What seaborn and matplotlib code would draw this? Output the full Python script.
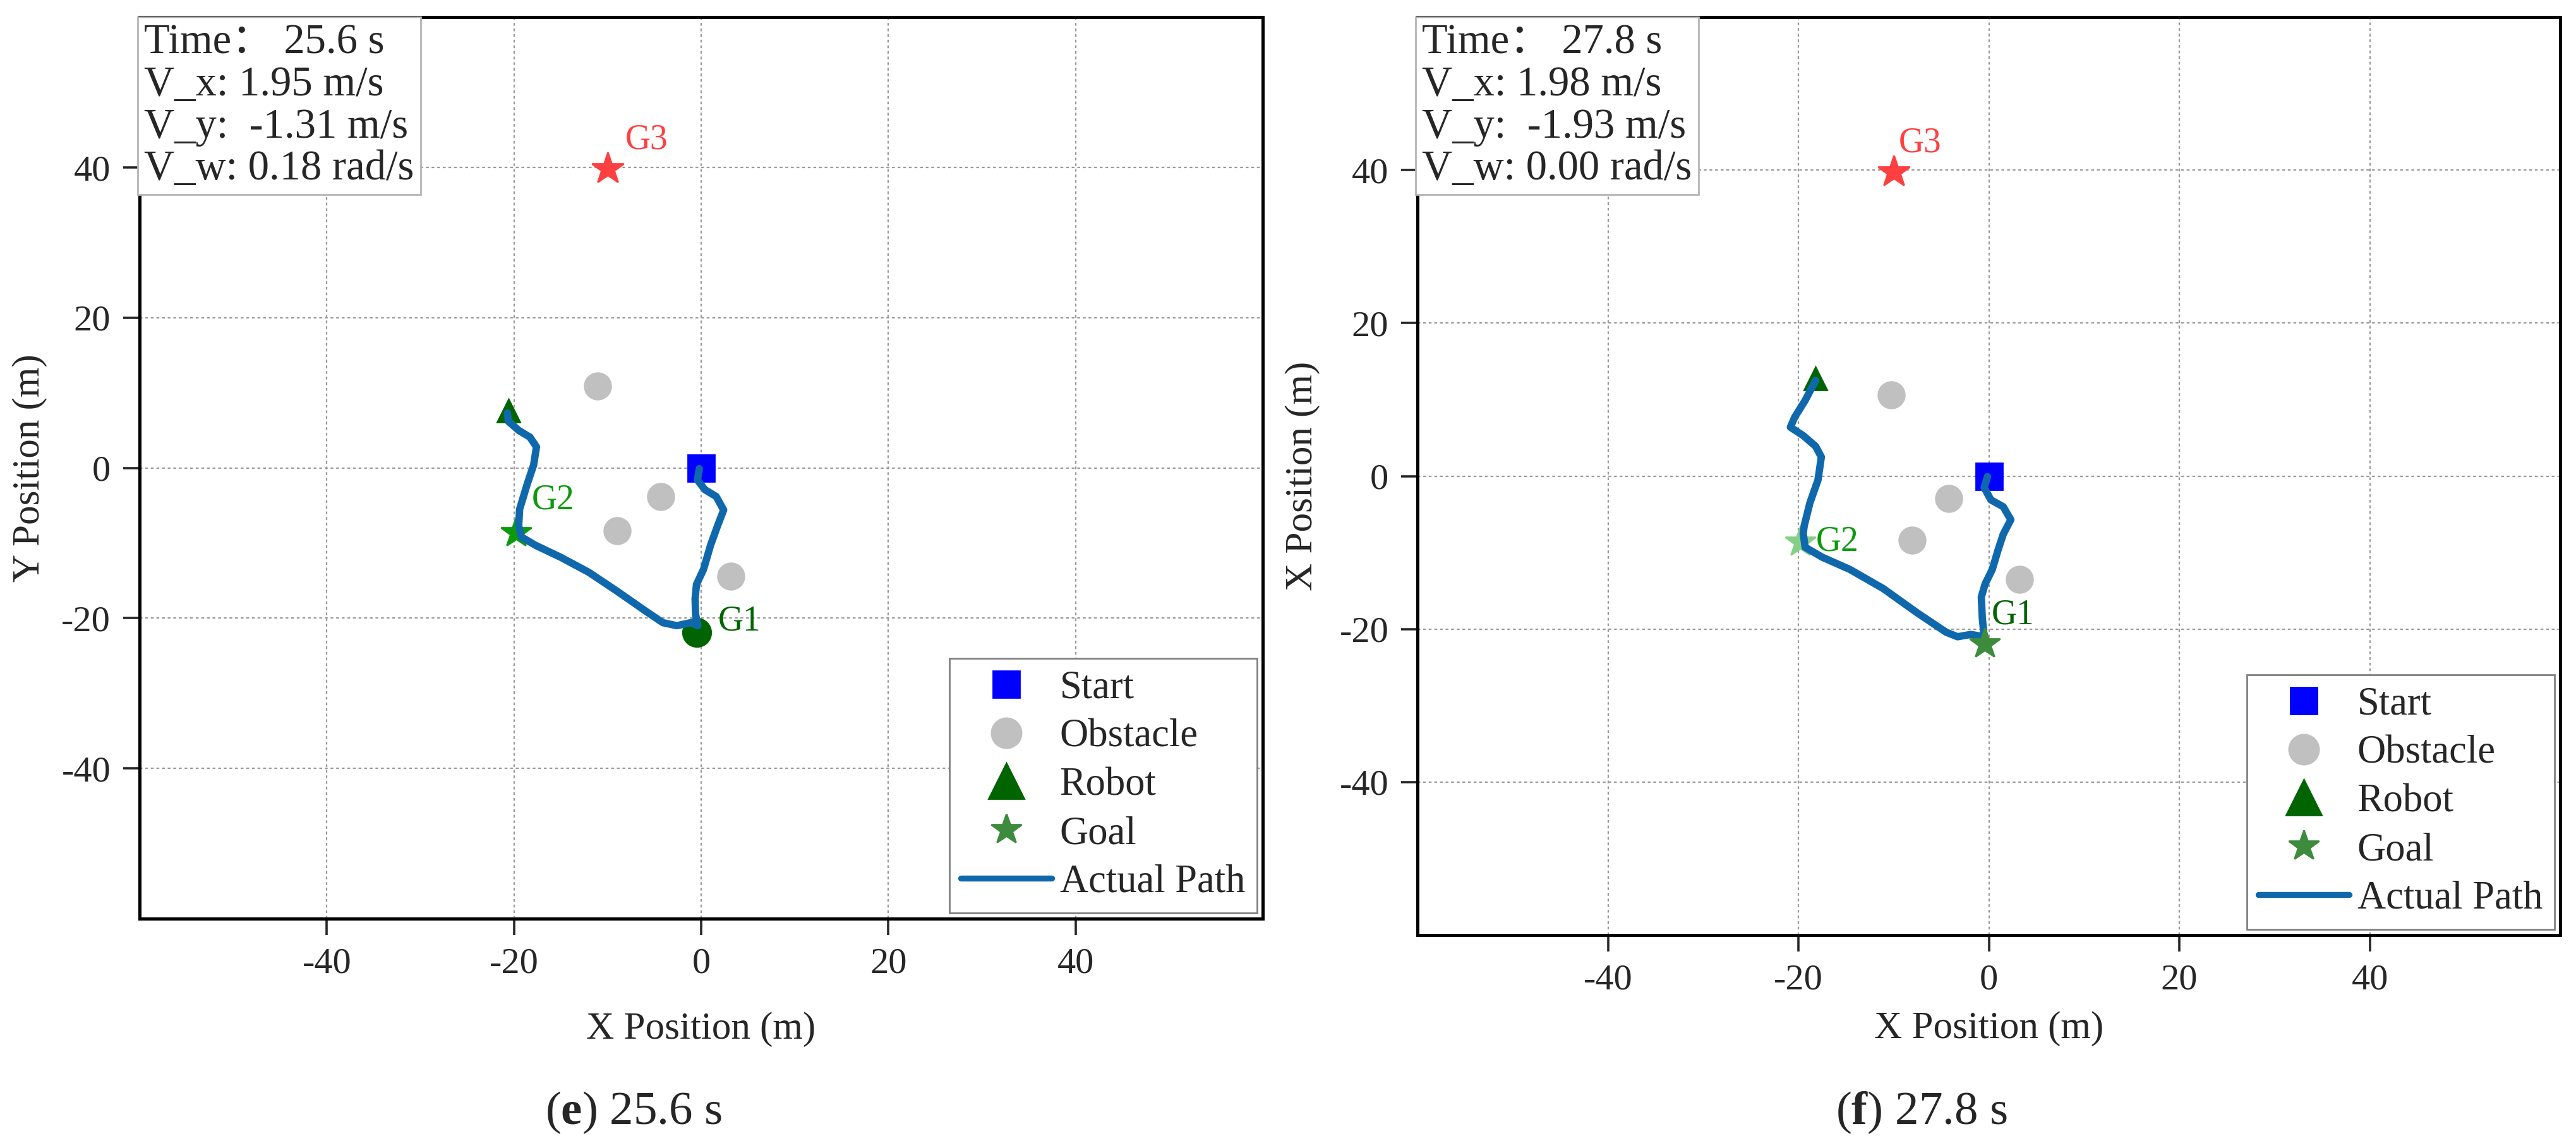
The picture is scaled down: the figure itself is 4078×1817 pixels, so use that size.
import numpy as np
import pandas as pd
import matplotlib
matplotlib.use("Agg")
import matplotlib.pyplot as plt
from matplotlib.lines import Line2D
import seaborn as sns

sns.set_style("ticks")
plt.rcParams['font.family'] = ['Liberation Serif', 'Noto Sans CJK SC']
plt.rcParams['mathtext.fontset'] = 'custom'
plt.rcParams['mathtext.rm'] = 'Liberation Serif'
plt.rcParams['mathtext.bf'] = 'Liberation Serif:bold'
plt.rcParams['axes.unicode_minus'] = False

#%% data read off the two snapshots
# (e) 25.6 s
path_e_x = [-0.2, -0.4, 0.4, 1.6, 2.4, 1.75, 1.0, 0.25, -0.5, -0.65, -0.6, -0.35, -1.1, -2.6,
            -4.1, -6.0, -9.0, -12.0, -15.0, -17.7, -19.2, -19.5, -19.4, -18.6, -17.9, -17.6,
            -18.3, -19.5, -20.6, -20.7]
path_e_y = [-0.1, -1.6, -2.9, -3.8, -5.6, -7.7, -10.3, -13.5, -15.5, -17.4, -19.5, -21.0, -20.6,
            -21.0, -20.6, -19.0, -16.4, -13.9, -11.9, -10.3, -9.2, -7.7, -5.5, -2.2, 0.4, 2.8,
            4.1, 5.0, 6.2, 7.3]
obs_e_x = [-11.1, -4.3, -9.0, 3.2]
obs_e_y = [10.9, -3.8, -8.4, -14.4]
robot_e = (-20.6, 7.6)
info_e = ["Time： 25.6 s", "V_x: 1.95 m/s", "V_y:  -1.31 m/s", "V_w: 0.18 rad/s"]

# (f) 27.8 s
path_f_x = [-0.15, -0.5, 0.2, 1.5, 2.3, 1.5, 0.95, 0.35, -0.4, -0.8, -0.7, -0.5, -1.9, -3.3,
            -4.5, -7.5, -11.1, -14.6, -17.5, -19.3, -19.5, -19.4, -18.8, -17.95, -17.6, -18.2,
            -19.5, -20.85, -20.4, -19.3, -18.2]
path_f_y = [-0.06, -1.5, -3.1, -4.0, -5.7, -7.6, -9.7, -12.2, -14.1, -15.8, -18.5, -21.0, -20.7,
            -21.0, -20.4, -17.9, -14.7, -12.2, -10.6, -9.3, -7.5, -6.5, -3.5, -0.5, 2.5, 3.9,
            5.3, 6.4, 7.7, 9.9, 12.5]
obs_f_x = [-10.25, -4.2, -8.1, 3.2]
obs_f_y = [10.6, -2.9, -8.4, -13.5]
robot_f = (-18.2, 12.8)
info_f = ["Time： 27.8 s", "V_x: 1.98 m/s", "V_y:  -1.93 m/s", "V_w: 0.00 rad/s"]

start = (0, 0)
goal_names = ["G1", "G2", "G3"]
goal_x = [-0.45, -19.8, -10.0]
goal_y = [-21.9, -8.6, 39.8]
ticks = [-40, -20, 0, 20, 40]

#%% colours
c_start = "#0000FF"
c_obs = "#C0C0C0"
c_robot = "#006400"
c_goal = "#3D8B3D"
c_path = "#1068AC"

fig = plt.figure(figsize=(20.39, 9.085), dpi=200)
ax_e = fig.add_axes([0.0542, 0.1998, 0.4360, 0.7852])
ax_f = fig.add_axes([0.5503, 0.1855, 0.4436, 0.7995])


def draw_panel(ax, px, py, ox, oy, robot, info, ylabel):
    ax.set_xlim(-60, 60)
    ax.set_ylim(-60, 60)
    ax.set_xticks(ticks)
    ax.set_yticks(ticks)
    ax.grid(True, color="#9a9a9a", linestyle=(0, (2, 2)), linewidth=0.8)
    ax.set_axisbelow(True)
    for sp in ax.spines.values():
        sp.set_linewidth(1.8)
        sp.set_color("black")
    ax.tick_params(direction="out", length=9.5, width=1.3, labelsize=21, pad=7,
                   top=False, right=False)

    sns.scatterplot(x=ox, y=oy, ax=ax, color=c_obs, s=16 ** 2, linewidth=0, zorder=3)
    ax.plot(*start, marker="s", ms=15, color=c_start, ls="", zorder=3)
    ax.plot(*robot, marker="^", ms=13, color=c_robot, ls="", zorder=3)
    path = pd.DataFrame({"x": px, "y": py})
    sns.lineplot(data=path, x="x", y="y", sort=False, estimator=None, ax=ax,
                 color=c_path, linewidth=4.2, zorder=4)

    ax.set_xlabel("X Position (m)", fontsize=22)
    ax.set_ylabel(ylabel, fontsize=22)

    ax.text(0.004, 0.993, "\n".join(info), transform=ax.transAxes, ha="left", va="top",
            fontsize=24, linespacing=1.12, zorder=6,
            bbox=dict(boxstyle="square,pad=0.15", fc="white", ec="#b5b5b5", lw=1.0))

    handles = [
        Line2D([], [], marker="s", ls="", color=c_start, ms=15, label="Start"),
        Line2D([], [], marker="o", ls="", color=c_obs, ms=17, label="Obstacle"),
        Line2D([], [], marker="^", ls="", color=c_robot, ms=20, label="Robot"),
        Line2D([], [], marker="*", ls="", color=c_goal, ms=18, label="Goal"),
        Line2D([], [], color=c_path, lw=3.4, solid_capstyle="round", label="Actual Path"),
    ]
    leg = ax.legend(handles=handles, loc="lower right", fontsize=22.5, frameon=True,
                    fancybox=False, edgecolor="#808080", framealpha=1, borderaxespad=0.15,
                    labelspacing=0.3, handlelength=2.3, handletextpad=0.2, borderpad=0.3)
    leg.get_frame().set_linewidth(1.0)


draw_panel(ax_e, path_e_x, path_e_y, obs_e_x, obs_e_y, robot_e, info_e, "Y Position (m)")
draw_panel(ax_f, path_f_x, path_f_y, obs_f_x, obs_f_y, robot_f, info_f, "X Position (m)")

# goals, panel (e): G1 reached (dark circle), G2 active
ax_e.plot(goal_x[0], goal_y[0], marker="o", ms=16, color=c_robot, ls="", zorder=3)
ax_e.plot(goal_x[1], goal_y[1], marker="*", ms=18, color="#0C9A0C", ls="", zorder=3)
ax_e.plot(goal_x[2], goal_y[2], marker="*", ms=19, color="#FF4040", ls="", zorder=3)
ax_e.annotate(goal_names[0], (goal_x[0], goal_y[0]), xytext=(12, -3), textcoords="offset points",
              ha="left", va="bottom", fontsize=20, color=c_robot)
ax_e.annotate(goal_names[1], (goal_x[1], goal_y[1]), xytext=(9, 9), textcoords="offset points",
              ha="left", va="bottom", fontsize=20, color="#0C9A0C")
ax_e.annotate(goal_names[2], (goal_x[2], goal_y[2]), xytext=(10, 7), textcoords="offset points",
              ha="left", va="bottom", fontsize=20, color="#FF4040")

# goals, panel (f)
ax_f.plot(goal_x[0], goal_y[0], marker="*", ms=18, color=c_goal, ls="", zorder=5)
ax_f.plot(goal_x[1], goal_y[1], marker="*", ms=18, color="#86CF86", ls="", zorder=3)
ax_f.plot(goal_x[2], goal_y[2], marker="*", ms=19, color="#FF4040", ls="", zorder=3)
ax_f.annotate(goal_names[0], (goal_x[0], goal_y[0]), xytext=(4, 7), textcoords="offset points",
              ha="left", va="bottom", fontsize=20, color=c_robot)
ax_f.annotate(goal_names[1], (goal_x[1], goal_y[1]), xytext=(9, 0), textcoords="offset points",
              ha="left", va="center", fontsize=20, color="#0C9A0C")
ax_f.annotate(goal_names[2], (goal_x[2], goal_y[2]), xytext=(3, 7), textcoords="offset points",
              ha="left", va="bottom", fontsize=20, color="#FF4040")

ax_e.xaxis.set_label_coords(0.5, -0.103)
ax_f.xaxis.set_label_coords(0.5, -0.083)
ax_e.yaxis.set_label_coords(-0.082, 0.5)
ax_f.yaxis.set_label_coords(-0.085, 0.5)

fig.text(0.246, 0.021, r"($\mathbf{e}$) 25.6 s", ha="center", va="baseline", fontsize=27)
fig.text(0.746, 0.021, r"($\mathbf{f}$) 27.8 s", ha="center", va="baseline", fontsize=27)

fig.savefig("out.png", dpi=200)
